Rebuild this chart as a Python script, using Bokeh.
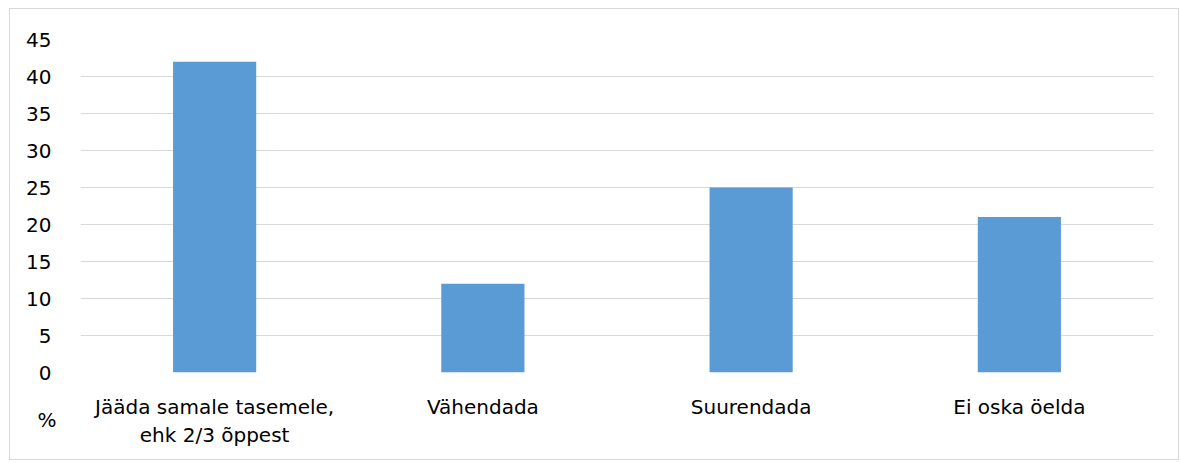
from bokeh.plotting import figure
from bokeh.models import Title, FixedTicker, ColumnDataSource
from bokeh.embed import file_html
from bokeh.resources import INLINE

categories = ["Jääda samale tasemele,\nehk 2/3 õppest", "Vähendada", "Suurendada", "Ei oska öelda"]
values = [42, 12, 25, 21]
y_ticks = [0, 5, 10, 15, 20, 25, 30, 35, 40, 45]
unit_label = "%"

src = ColumnDataSource(dict(cat=categories, val=values))

FONT = "DejaVu Sans"
FS = "20px"

p = figure(x_range=categories, y_range=(0, 45), width=1170, height=452,
           output_backend="svg", toolbar_location=None,
           min_border_left=70, min_border_right=27, min_border_top=30, min_border_bottom=89)
p.styles = {"border": "1px solid #d9d9d9", "margin": "8px 0px 0px 9px"}
p.x_range.range_padding = 0
p.outline_line_color = None

p.vbar(x="cat", top="val", width=0.31, source=src, color="#5B9BD5", line_color=None)

p.xgrid.grid_line_color = None
p.ygrid.grid_line_color = "#d9d9d9"
p.ygrid.grid_line_width = 1
p.yaxis.ticker = FixedTicker(ticks=y_ticks)

for ax in (p.xaxis[0], p.yaxis[0]):
    ax.axis_line_color = None
    ax.major_tick_line_color = None
    ax.minor_tick_line_color = None
    ax.major_label_text_font = FONT
    ax.major_label_text_font_size = FS
    ax.major_label_text_color = "#000000"
p.yaxis.major_label_standoff = 23
p.xaxis.major_label_standoff = 16

p.add_layout(Title(text=unit_label, align="left", vertical_align="top", offset=-43, standoff=-86,
                   text_font=FONT, text_font_size=FS, text_font_style="normal",
                   text_color="#000000"), "below")

open("out.html", "w").write(file_html(p, INLINE))
